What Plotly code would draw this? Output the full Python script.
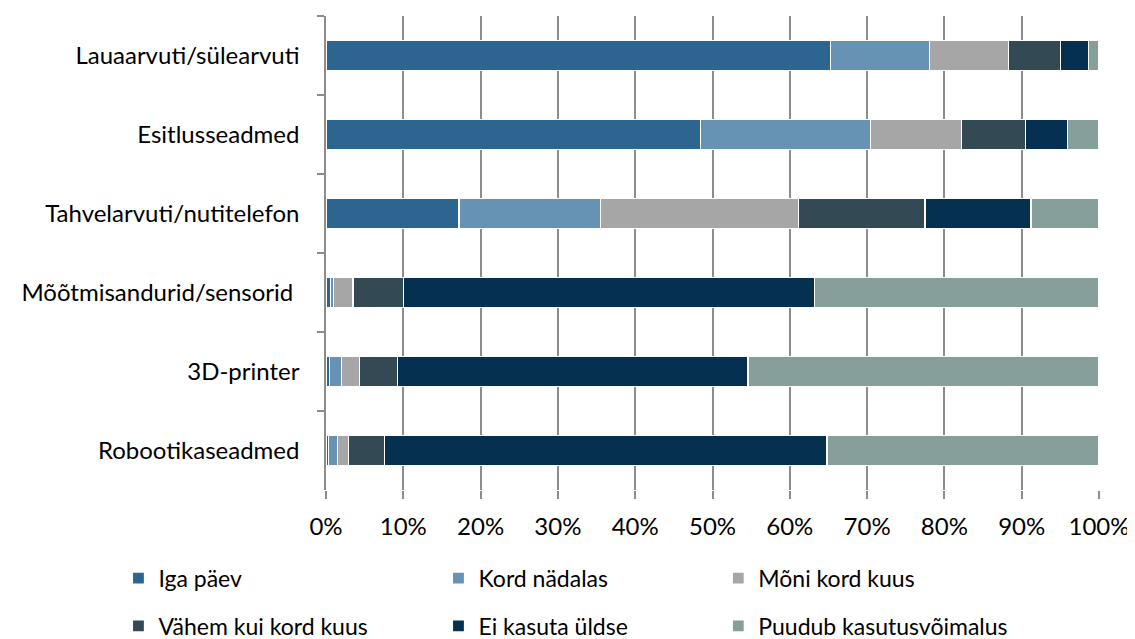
import plotly.graph_objects as go

categories = ["Lauaarvuti/sülearvuti", "Esitlusseadmed", "Tahvelarvuti/nutitelefon",
              "Mõõtmisandurid/sensorid ", "3D-printer", "Robootikaseadmed"]
series_names = ["Iga päev", "Kord nädalas", "Mõni kord kuus",
                "Vähem kui kord kuus", "Ei kasuta üldse", "Puudub kasutusvõimalus"]
iga_paev = [65.3, 48.4, 17.2, 0.6, 0.5, 0.3]
kord_nadalas = [12.8, 22.0, 18.3, 0.4, 1.5, 1.2]
moni_kord_kuus = [10.2, 11.8, 25.6, 2.5, 2.3, 1.4]
vahem_kui_kord = [6.7, 8.3, 16.4, 6.5, 4.9, 4.7]
ei_kasuta = [3.6, 5.4, 13.7, 53.2, 45.4, 57.2]
puudub = [1.4, 4.1, 8.8, 36.8, 45.4, 35.2]
x_ticks = [0, 10, 20, 30, 40, 50, 60, 70, 80, 90, 100]
x_tick_labels = [f"{v}%" for v in x_ticks]

series_values = [iga_paev, kord_nadalas, moni_kord_kuus, vahem_kui_kord, ei_kasuta, puudub]
colors = ["#2C6690", "#6692B4", "#A6A6A6", "#334A55", "#05304F", "#879F9B"]
legend_ids = ["legend", "legend2", "legend3", "legend", "legend2", "legend3"]

FONT = "Lato"
FS = 24
fig = go.Figure()
for name, vals, col, lg in zip(series_names, series_values, colors, legend_ids):
    fig.add_trace(go.Bar(
        y=categories, x=vals, name=name, orientation="h",
        marker=dict(color=col, line=dict(color="white", width=1.2)),
        width=0.38, legend=lg, legendgroup=name,
    ))

leg_common = dict(orientation="v", xanchor="left", yanchor="top",
                  xref="container", yref="container", y=0.1415,
                  tracegroupgap=15, font=dict(family=FONT, size=23, color="#000"),
                  bgcolor="rgba(0,0,0,0)", itemwidth=30)
fig.update_layout(
    width=1135, height=639,
    margin=dict(l=318, r=44, t=8, b=157, autoexpand=False),
    barmode="stack", bargap=0.62,
    plot_bgcolor="white", paper_bgcolor="white",
    font=dict(family=FONT, size=FS, color="#000"),
    showlegend=True,
    legend=dict(x=(318 - 0.2685 * 773) / 1135, **leg_common),
    legend2=dict(x=(318 + 0.1455 * 773) / 1135, **leg_common),
    legend3=dict(x=(318 + 0.5075 * 773) / 1135, **leg_common),
    xaxis=dict(range=[0, 100], tickvals=x_ticks, ticktext=x_tick_labels,
               showgrid=True, gridcolor="#8C8C8C", gridwidth=1.5,
               ticks="outside", ticklen=8, tickcolor="#8C8C8C", tickwidth=1.5,
               showline=False, zeroline=False, ticklabelstandoff=7,
               tickfont=dict(family=FONT, size=FS, color="#000")),
    yaxis=dict(categoryorder="array", categoryarray=categories, autorange="reversed",
               showline=True, linecolor="#8C8C8C", linewidth=1.5,
               ticks="outside", tickson="boundaries", ticklen=7, tickcolor="#8C8C8C",
               tickwidth=1.5, ticklabelstandoff=20,
               tickfont=dict(family=FONT, size=FS, color="#000")),
)
fig.write_html("out.html")
